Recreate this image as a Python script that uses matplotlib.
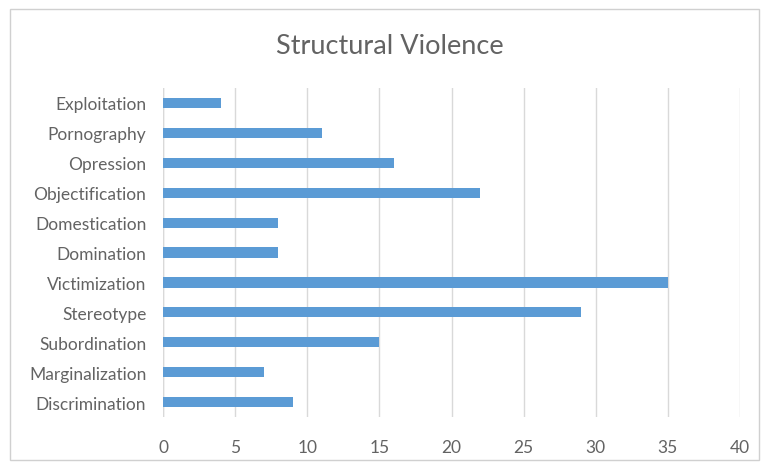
import matplotlib
matplotlib.use("Agg")
import matplotlib.pyplot as plt
from matplotlib.patches import Rectangle

# data, bottom to top as in the chart
categories = ["Discrimination", "Marginalization", "Subordination", "Stereotype",
              "Victimization", "Domination", "Domestication", "Objectification",
              "Opression", "Pornography", "Exploitation"]
values = [9, 7, 15, 29, 35, 8, 8, 22, 16, 11, 4]
xticks = [0, 5, 10, 15, 20, 25, 30, 35, 40]

plt.rcParams['font.family'] = ['Lato', 'DejaVu Sans']
text_col = "#636363"

fig = plt.figure(figsize=(7.61, 4.64), dpi=100)
ax = fig.add_axes([0.2142, 0.0991, 0.7582, 0.7091])

ax.barh(range(len(categories)), values, height=0.34, color="#5b9bd5", zorder=3)

ax.set_xlim(0, 40)
ax.set_ylim(-0.5, len(categories) - 0.5)
ax.set_xticks(xticks)
ax.set_yticks(range(len(categories)))
ax.set_yticklabels(categories)
ax.grid(axis="x", color="#d9d9d9", linewidth=1.0, zorder=0)
for s in ax.spines.values():
    s.set_visible(False)
ax.axvline(0, color="#d9d9d9", linewidth=1.0, zorder=1)
ax.tick_params(length=0, colors=text_col, labelsize=12.5)
ax.tick_params(axis="x", pad=16)
ax.tick_params(axis="y", pad=12)

fig.text(0.512, 0.899, "Structural Violence", ha="center", va="center",
         fontsize=19.5, color=text_col)

# chart border
fig.patches.append(Rectangle((10 / 761, 3 / 464), 749 / 761, 451 / 464,
                             transform=fig.transFigure, fill=False,
                             edgecolor="#d0d0d0", linewidth=1.0))

fig.savefig("out.png", dpi=100)
